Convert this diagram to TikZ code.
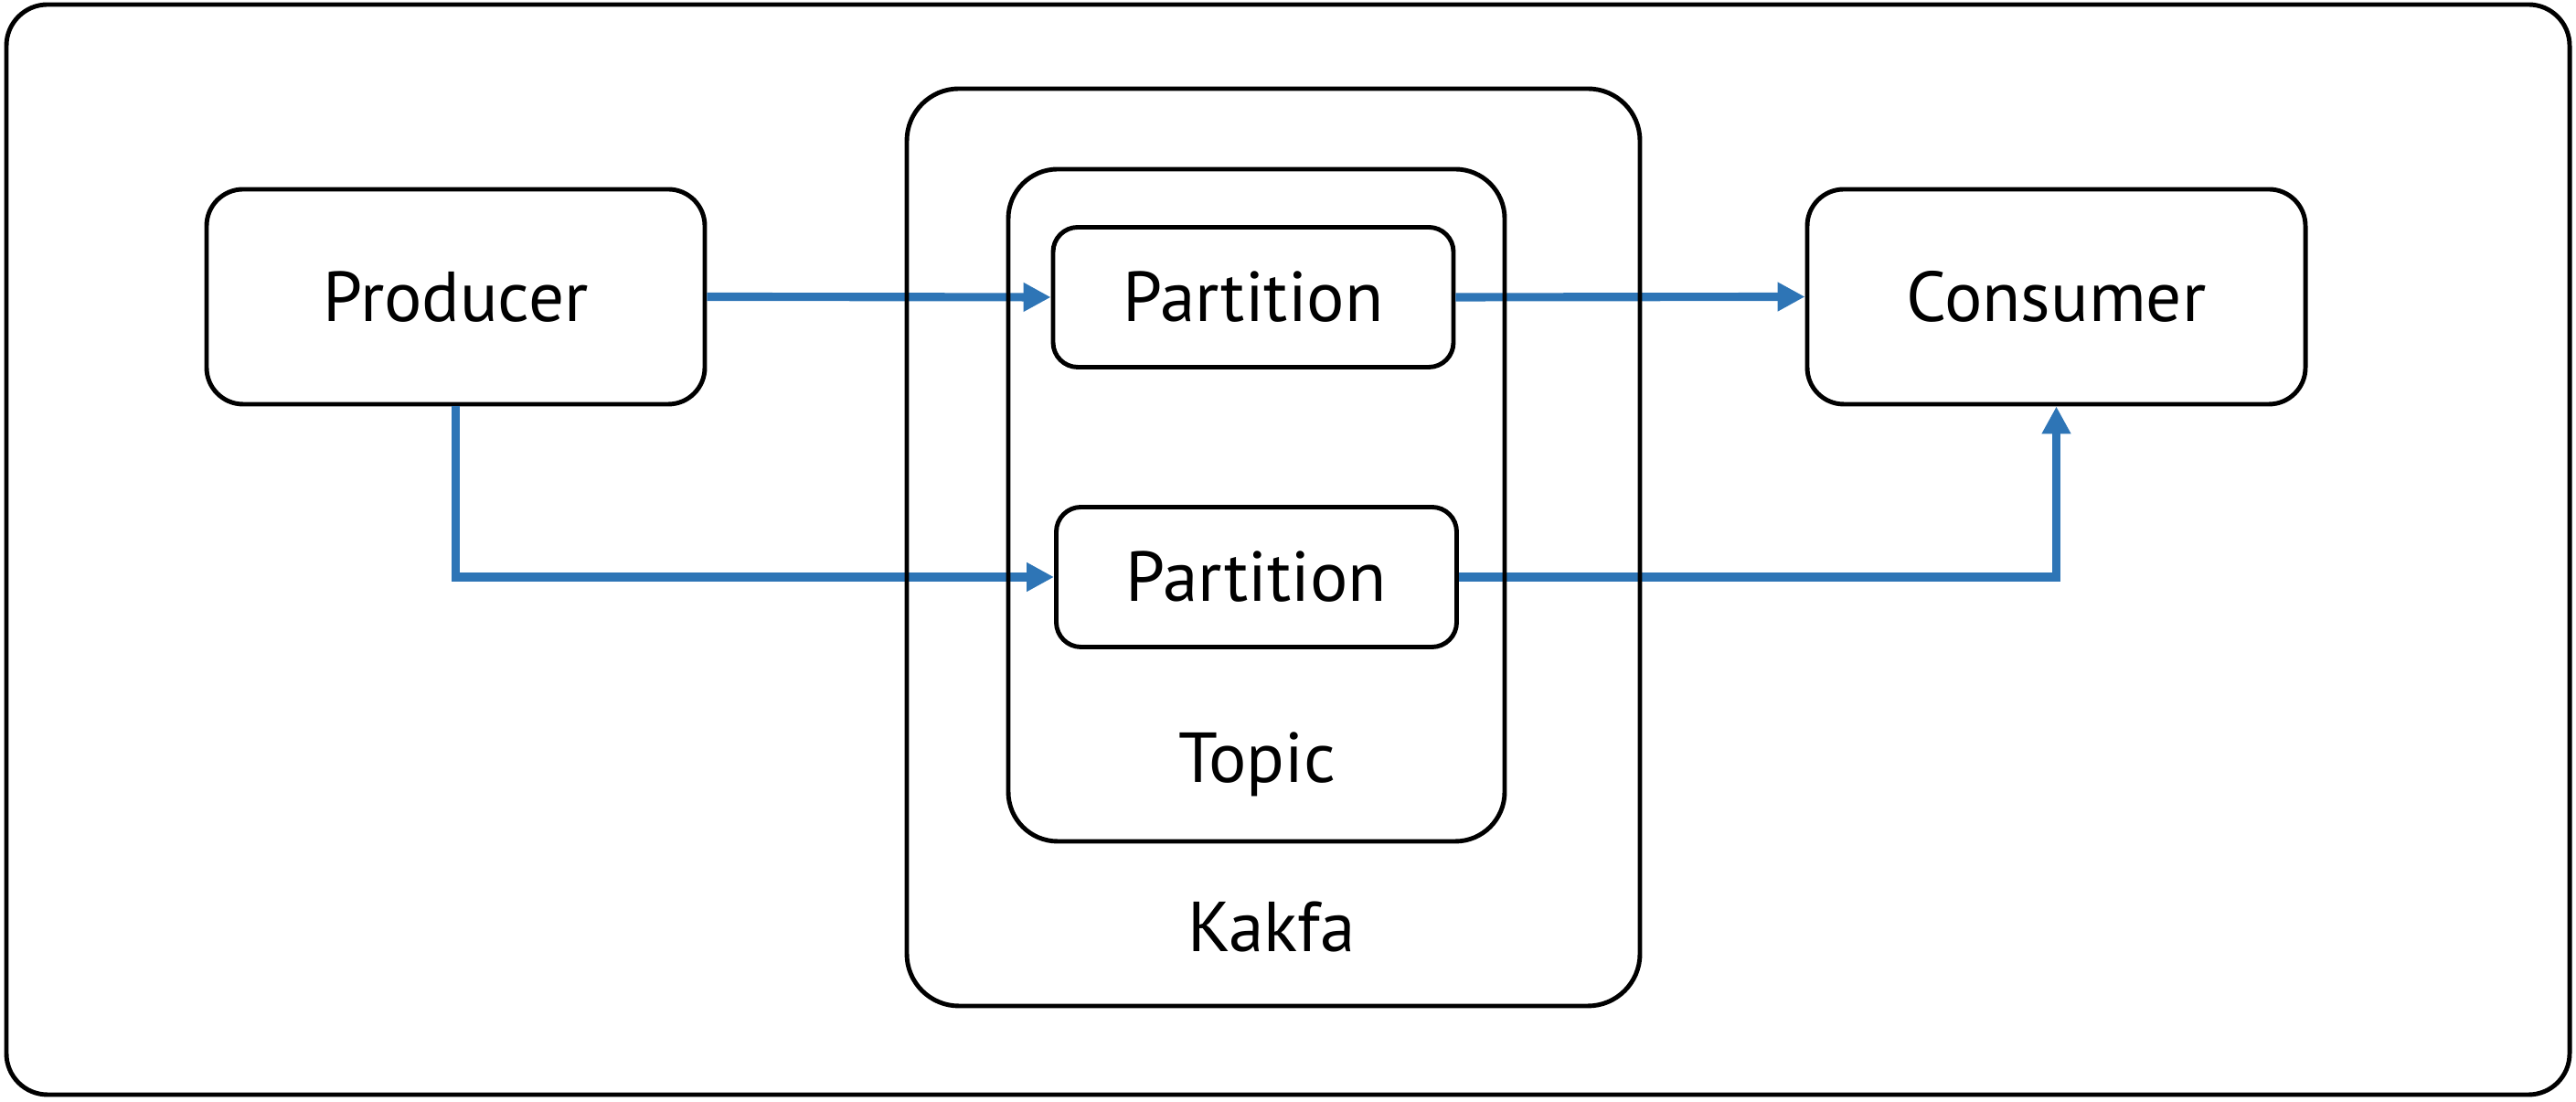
\documentclass[tikz,border=0pt]{standalone}
\usepackage{fontspec}
\setmainfont{PT Sans}
\usetikzlibrary{arrows.meta}
\definecolor{flowblue}{RGB}{46,117,182}
\tikzset{
  box/.style={draw, line width=1.4pt, rounded corners=0.4cm, minimum width=5.45cm, minimum height=2.35cm, font=\fontsize{22}{26}\selectfont},
  part/.style={draw, line width=1.4pt, rounded corners=0.27cm, minimum width=4.38cm, minimum height=1.53cm, font=\fontsize{22}{26}\selectfont},
  container/.style={draw, line width=1.4pt},
  caption/.style={font=\fontsize{22}{26}\selectfont},
  flow/.style={draw=flowblue, line width=2.6pt, -{Triangle[length=0.3cm,width=0.3cm]}}
}
\begin{document}
\begin{tikzpicture}
\useasboundingbox (0,0) rectangle (28.18,12.05);
\draw [line width=1.4pt, rounded corners=0.45cm] (0.07,0.08) rectangle (28.11,12.00);
\node [box] (producer) at (4.985,8.805) {Producer};
\node [box] (consumer) at (22.495,8.805) {Consumer};
\node [part] (part1) at (13.71,8.80) {Partition};
\node [part] (part2) at (13.745,5.74) {Partition};
\draw [flow] (producer.east) -- (part1.west);
\draw [flow] (part1.east) -- (consumer.west);
\draw [flow] (producer.south) |- (part2.west);
\draw [flow] (part2.east) -| (consumer.south);
\node [container, rounded corners=0.54cm, minimum width=5.43cm, minimum height=7.35cm] (topic) at (13.745,6.525) {};
\node [container, rounded corners=0.57cm, minimum width=8.02cm, minimum height=10.03cm] (kafka) at (13.93,6.065) {};
\node [caption] (topiclabel) at (13.75,3.69) {Topic};
\node [caption] (kafkalabel) at (13.91,1.91) {Kakfa};
\end{tikzpicture}
\end{document}
